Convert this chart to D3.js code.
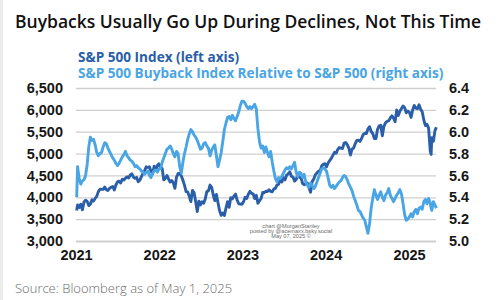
<!DOCTYPE html>
<html>
<head>
<meta charset="utf-8">
<script src="https://cdn.jsdelivr.net/npm/d3@7"></script>
<style>
  html, body { margin: 0; padding: 0; background: #fff; }
  svg { display: block; font-family: "Open Sans", "Noto Sans", sans-serif; }
</style>
</head>
<body>
<svg id="chart" width="500" height="300"></svg>
<script>
// weekly closes (month-day), one array per year
const weeks2021 = ["01-04","01-08","01-15","01-22","01-29","02-05","02-12","02-19","02-26","03-05","03-12","03-19","03-26",
  "04-02","04-09","04-16","04-23","04-30","05-07","05-14","05-21","05-28","06-04","06-11","06-18","06-25",
  "07-02","07-09","07-16","07-23","07-30","08-06","08-13","08-20","08-27","09-03","09-10","09-17","09-24",
  "10-01","10-08","10-15","10-22","10-29","11-05","11-12","11-19","11-26","12-03","12-10","12-17","12-24","12-31"];
const weeks2022 = ["01-07","01-14","01-21","01-28","02-04","02-11","02-18","02-25","03-04","03-11","03-18","03-25",
  "04-01","04-08","04-15","04-22","04-29","05-06","05-13","05-20","05-27","06-03","06-10","06-17","06-24",
  "07-01","07-08","07-15","07-22","07-29","08-05","08-12","08-19","08-26","09-02","09-09","09-16","09-23","09-30",
  "10-07","10-14","10-21","10-28","11-04","11-11","11-18","11-25","12-02","12-09","12-16","12-23","12-30"];
const weeks2023 = ["01-06","01-13","01-20","01-27","02-03","02-10","02-17","02-24","03-03","03-10","03-17","03-24","03-31",
  "04-07","04-14","04-21","04-28","05-05","05-12","05-19","05-26","06-02","06-09","06-16","06-23","06-30",
  "07-07","07-14","07-21","07-28","08-04","08-11","08-18","08-25","09-01","09-08","09-15","09-22","09-29",
  "10-06","10-13","10-20","10-27","11-03","11-10","11-17","11-24","12-01","12-08","12-15","12-22","12-29"];
const weeks2024 = ["01-05","01-12","01-19","01-26","02-02","02-09","02-16","02-23","03-01","03-08","03-15","03-22","03-29",
  "04-05","04-12","04-19","04-26","05-03","05-10","05-17","05-24","05-31","06-07","06-14","06-21","06-28",
  "07-05","07-12","07-19","07-26","08-02","08-09","08-16","08-23","08-30","09-06","09-13","09-20","09-27",
  "10-04","10-11","10-18","10-25","11-01","11-08","11-15","11-22","11-29","12-06","12-13","12-20","12-27"];
const weeks2025 = ["01-03","01-10","01-17","01-24","01-31","02-07","02-14","02-21","02-28","03-07","03-14","03-21","03-28",
  "04-04","04-08","04-11","04-18","04-25","05-01"];

// S&P 500 Index (left axis)
const spx2021 = [3700,3825,3768,3841,3714,3887,3934,3907,3811,3842,3943,3913,3975,4020,4129,4185,4180,4181,4233,4174,4156,4204,
  4230,4247,4166,4281,4352,4370,4327,4412,4395,4437,4468,4442,4509,4535,4459,4433,4455,4357,4391,4471,4545,4605,
  4697,4682,4698,4595,4538,4712,4620,4726,4766];
const spx2022 = [4677,4662,4398,4432,4500,4419,4349,4385,4329,4204,4463,4543,4546,4488,4393,4272,4132,4123,4024,3901,4158,
  4109,3901,3675,3912,3825,3899,3863,3962,4130,4145,4280,4228,4058,3924,4067,3873,3693,3586,3640,3583,3753,3901,
  3771,3993,3965,4026,4072,3934,3852,3845,3840];
const spx2023 = [3895,3999,3973,4070,4136,4090,4079,3970,4046,3862,3917,3971,4109,4105,4138,4133,4169,4136,4124,4192,4205,
  4282,4299,4410,4348,4450,4399,4505,4536,4582,4478,4464,4370,4406,4516,4457,4450,4320,4288,4308,4327,4224,4117,
  4358,4415,4514,4559,4595,4604,4719,4755,4770];
const spx2024 = [4697,4784,4840,4891,4959,5027,5006,5089,5137,5124,5117,5234,5254,5204,5123,4967,5100,5128,5223,5303,5305,
  5278,5347,5432,5465,5460,5567,5615,5505,5459,5346,5344,5554,5634,5648,5408,5626,5703,5738,5751,5815,5864,5808,
  5729,5995,5871,5969,6032,6090,6051,5931,5971];
const spx2025 = [5942,5827,5997,6101,6041,6026,6115,6013,5955,5770,5639,5668,5581,5074,4982,5363,5283,5525,5604];

// S&P 500 Buyback Index relative to S&P 500 (right axis)
const bb2021 = [5.40,5.68,5.57,5.52,5.55,5.56,5.60,5.70,5.86,5.95,5.92,5.93,5.88,5.81,5.78,5.80,5.81,5.86,5.90,5.89,5.85,5.82,
  5.79,5.76,5.74,5.71,5.69,5.71,5.74,5.77,5.79,5.82,5.78,5.76,5.74,5.73,5.71,5.68,5.69,5.67,5.66,5.64,5.63,5.61,
  5.63,5.64,5.60,5.58,5.62,5.64,5.65,5.63,5.66];
const bb2022 = [5.66,5.72,5.76,5.80,5.84,5.85,5.87,5.84,5.80,5.77,5.82,5.80,5.68,5.62,5.72,5.80,5.86,5.93,5.98,6.02,6.00,
  5.97,5.95,5.92,5.88,5.84,5.85,5.89,5.90,5.87,5.85,5.78,5.83,5.86,5.88,5.78,5.68,5.74,5.81,5.91,6.02,6.08,6.13,
  6.14,6.11,6.15,6.12,6.10,6.14,6.18,6.24,6.28];
const bb2023 = [6.28,6.26,6.23,6.21,6.23,6.21,6.23,6.25,6.21,6.03,5.91,5.85,5.87,5.81,5.86,5.81,5.77,5.82,5.72,5.64,5.57,
  5.54,5.58,5.57,5.59,5.62,5.65,5.67,5.66,5.68,5.66,5.69,5.72,5.63,5.59,5.63,5.62,5.58,5.61,5.54,5.51,5.49,5.53,
  5.51,5.48,5.50,5.54,5.58,5.62,5.66,5.67,5.66];
const bb2024 = [5.64,5.58,5.51,5.49,5.51,5.48,5.50,5.52,5.54,5.55,5.58,5.60,5.59,5.56,5.52,5.49,5.46,5.41,5.37,5.33,5.28,
  5.27,5.24,5.21,5.19,5.13,5.07,5.16,5.30,5.39,5.47,5.42,5.38,5.42,5.45,5.40,5.37,5.42,5.44,5.48,5.42,5.39,5.36,
  5.39,5.42,5.44,5.47,5.43,5.34,5.24,5.19,5.20];
const bb2025 = [5.22,5.25,5.22,5.27,5.29,5.25,5.30,5.31,5.29,5.36,5.38,5.34,5.39,5.35,5.30,5.28,5.36,5.33,5.30];

const years = ["2021","2022","2023","2024","2025"];
const leftTicks = [3000,3500,4000,4500,5000,5500,6000,6500];
const rightTicks = [5.0,5.2,5.4,5.6,5.8,6.0,6.2,6.4];

const darkBlue = "#2a5ea8";
const lightBlue = "#49a5e4";

const margin = { top: 88, right: 64, bottom: 59, left: 76 };
const width = 500 - margin.left - margin.right;
const height = 300 - margin.top - margin.bottom;

const parse = d3.timeParse("%Y-%m-%d");
const weekSets = [weeks2021, weeks2022, weeks2023, weeks2024, weeks2025];
const dates = [];
weekSets.forEach(function (w, i) {
  w.forEach(function (md) { dates.push(parse(years[i] + "-" + md)); });
});
const spx = [].concat(spx2021, spx2022, spx2023, spx2024, spx2025);
const buyback = [].concat(bb2021, bb2022, bb2023, bb2024, bb2025);

const data = dates.map(function (d, i) { return { date: d, spx: spx[i], bb: buyback[i] }; });

const svg = d3.select("#chart");

// faint frame strip on the left edge
svg.append("rect").attr("x", 0).attr("y", 0).attr("width", 3).attr("height", 300).attr("fill", "#ececec");

// scales: 2021..2025 tick spacing matched to the reference
const x = d3.scaleTime()
  .domain([parse("2021-01-01"), parse("2025-01-01")])
  .range([0, 333]);
const yLeft = d3.scaleLinear().domain([3000, 6500]).range([height, 0]);
const yRight = d3.scaleLinear().domain([5.0, 6.4]).range([height, 0]);

const g = svg.append("g")
  .attr("transform", "translate(" + margin.left + "," + margin.top + ")");

// gridlines
const grid = g.append("g")
  .call(d3.axisRight(yLeft).tickValues(leftTicks).tickSize(width).tickFormat(""));
grid.select(".domain").remove();
grid.selectAll("line")
  .attr("stroke", "#cfcfcf")
  .attr("stroke-width", function (d) { return d === 3000 ? 2 : 1.3; });

// left axis
const leftAxis = g.append("g")
  .call(d3.axisLeft(yLeft).tickValues(leftTicks).tickFormat(d3.format(",")).tickSize(0).tickPadding(13));
leftAxis.select(".domain").remove();
leftAxis.selectAll("text")
  .attr("fill", "#161616")
  .style("font-size", "14.5px")
  .style("font-weight", "700");

// right axis
const rightAxis = g.append("g")
  .attr("transform", "translate(" + width + ",0)")
  .call(d3.axisRight(yRight).tickValues(rightTicks).tickFormat(d3.format(".1f")).tickSize(0).tickPadding(13));
rightAxis.select(".domain").remove();
rightAxis.selectAll("text")
  .attr("fill", "#161616")
  .style("font-size", "14.5px")
  .style("font-weight", "700");

// x axis
const xAxis = g.append("g")
  .attr("transform", "translate(0," + height + ")")
  .call(d3.axisBottom(x).tickValues(years.map(function (y) { return parse(y + "-01-01"); }))
    .tickFormat(d3.timeFormat("%Y")).tickSize(0).tickPadding(9));
xAxis.select(".domain").remove();
xAxis.selectAll("text")
  .attr("fill", "#161616")
  .style("font-size", "14.5px")
  .style("font-weight", "700");

// lines
const spxLine = d3.line()
  .x(function (d) { return x(d.date); })
  .y(function (d) { return yLeft(d.spx); });
const bbLine = d3.line()
  .x(function (d) { return x(d.date); })
  .y(function (d) { return yRight(d.bb); });

g.append("path")
  .datum(data)
  .attr("fill", "none")
  .attr("stroke", darkBlue)
  .attr("stroke-width", 2.9)
  .attr("stroke-linejoin", "round")
  .attr("d", spxLine);

g.append("path")
  .datum(data)
  .attr("fill", "none")
  .attr("stroke", lightBlue)
  .attr("stroke-width", 2.9)
  .attr("stroke-linejoin", "round")
  .attr("d", bbLine);

// watermark
const wm = g.append("g")
  .attr("transform", "translate(215,0)")
  .attr("fill", "#6a6a6a")
  .style("font-size", "5.6px")
  .style("font-family", "Liberation Sans, Arial, sans-serif")
  .attr("text-anchor", "middle");
wm.append("text").attr("y", 139.5).text("chart @MorganStanley");
wm.append("text").attr("y", 144.5).text("posted by @acemaxx.bsky.social");
wm.append("text").attr("y", 149.5).text("May 07, 2025 ©");

// title
svg.append("text")
  .attr("x", 15)
  .attr("y", 28)
  .attr("fill", "#111")
  .style("font-size", "17.5px")
  .style("font-weight", "600")
  .text("Buybacks Usually Go Up During Declines, Not This Time");

// legend
svg.append("text")
  .attr("x", 78)
  .attr("y", 62)
  .attr("fill", darkBlue)
  .style("font-size", "13.6px")
  .style("font-weight", "700")
  .text("S&P 500 Index (left axis)");
svg.append("text")
  .attr("x", 78)
  .attr("y", 77.5)
  .attr("fill", lightBlue)
  .style("font-size", "13.6px")
  .style("font-weight", "700")
  .text("S&P 500 Buyback Index Relative to S&P 500 (right axis)");

// source
svg.append("text")
  .attr("x", 15)
  .attr("y", 293)
  .attr("fill", "#6b6b6b")
  .style("font-size", "13px")
  .style("font-weight", "300")
  .text("Source: Bloomberg as of May 1, 2025");
</script>
</body>
</html>
